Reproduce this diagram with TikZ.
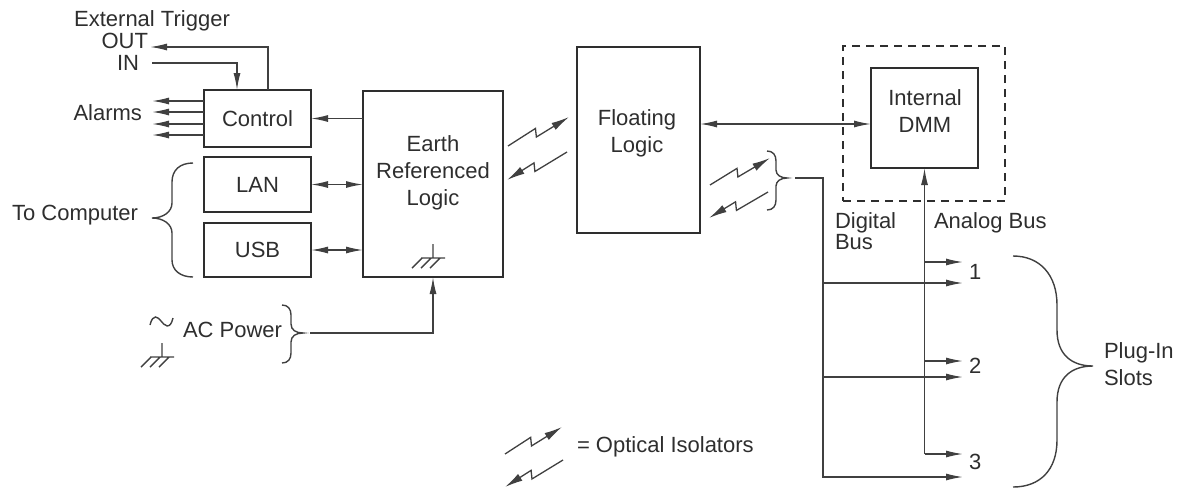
\documentclass[tikz,border=0pt]{standalone}
\usepackage{fontspec}
\setmainfont{Liberation Sans}
\usetikzlibrary{arrows.meta,calc}
\definecolor{ink}{HTML}{2e2e2e}
\definecolor{wire}{HTML}{404040}
\tikzset{
  txt/.style={font=\fontsize{22}{27}\selectfont, text=ink, inner sep=0pt, outer sep=0pt},
  box/.style={draw=ink, line width=1.8pt, inner sep=0pt, txt, align=center},
  zone/.style={draw=ink, line width=1.6pt, dash pattern=on 8pt off 6pt, inner sep=0pt},
  wireline/.style={draw=wire, line width=1.4pt},
  arr/.style={wireline, -{Latex[length=17pt,width=7pt]}},
  darr/.style={wireline, {Latex[length=17pt,width=7pt]}-{Latex[length=17pt,width=7pt]}},
  iso/.style={draw=wire, line width=1.3pt, -{Latex[length=18pt,width=8pt]}},
  bracestyle/.style={draw=wire, line width=1.4pt},
  gnd/.pic={
    \draw[wireline] (0,-14) -- (0,0) (-12,0) -- (12,0)
      (-11,0) -- (-21,10) (-2,0) -- (-12,10) (7,0) -- (-3,10);
  }
}
\newcommand\isoup[2]{\draw[iso] (#1) -- ($(#1)!0.45!(#2)+(0,-4.5)$) -- ($(#1)!0.465!(#2)+(0,4.5)$) -- (#2);}
\newcommand\isodown[2]{\draw[iso] (#1) -- ($(#1)!0.535!(#2)+(0,4.5)$) -- ($(#1)!0.55!(#2)+(0,-4.5)$) -- (#2);}
\begin{document}
\begin{tikzpicture}[x=1pt,y=-1pt]
\useasboundingbox (0,0) rectangle (1182,488);

% ---- boxes
\node[box, minimum width=107pt, minimum height=57pt] (ctrl) at (257.5,118.5) {Control};
\node[box, minimum width=107pt, minimum height=55pt] (lan) at (257.5,184.5) {LAN};
\node[box, minimum width=107pt, minimum height=54pt] (usb) at (257.5,250) {USB};
\node[box, minimum width=140pt, minimum height=186pt] (erl) at (433,184) {};
\node[txt, align=center] (erltext) at (433,173) {Earth\\Referenced\\Logic};
\node[box, minimum width=123pt, minimum height=186pt] (fl) at (638.5,140) {};
\node[txt, align=center] (fltext) at (637,133) {Floating\\Logic};
\node[zone, minimum width=162pt, minimum height=155pt] (zone) at (924,123.5) {};
\node[box, minimum width=107pt, minimum height=100pt] (dmm) at (924.5,118) {};
\node[txt, align=center] (dmmtext) at (925,111) {Internal\\DMM};

% ---- texts
\node[txt] (ext) at (152,20.5) {External Trigger};
\node[txt, anchor=east] (out) at (148,41) {OUT};
\node[txt, anchor=east] (in) at (139,63) {IN};
\node[txt, anchor=east] (alarms) at (142,113) {Alarms};
\node[txt, anchor=east] (tocomp) at (138,215) {To Computer};
\node[txt, anchor=west] (acpower) at (183,330) {AC Power};
\node[txt, anchor=west, align=left, font=\fontsize{22}{19}\selectfont] (digital) at (835,231) {Digital\\Bus};
\node[txt, anchor=west] (analog) at (934,223) {Analog Bus};
\node[txt, anchor=west] (n1) at (969,272) {1};
\node[txt, anchor=west] (n2) at (969,366) {2};
\node[txt, anchor=west] (n3) at (969,462) {3};
\node[txt, anchor=west, align=left] (plugin) at (1104,364) {Plug-In\\Slots};
\node[txt, anchor=west] (legend) at (577,447) {= Optical Isolators};

% ---- external trigger
\coordinate (outtip) at (150,47);
\coordinate (instart) at (152,63);
\draw[arr] ($(ctrl.north)+(10.5,0)$) |- (outtip);
\draw[arr] (instart) -| ($(ctrl.north)+(-20.5,0)$);

% ---- alarms
\coordinate (a1) at (152,101);
\coordinate (a2) at (152,112);
\coordinate (a3) at (152,124);
\coordinate (a4) at (152,135);
\foreach \a in {a1,a2,a3,a4} \draw[arr] (\a -| ctrl.west) -- (\a);

% ---- erl links
\draw[arr] (ctrl.east -| erl.west) -- (ctrl.east);
\draw[darr] (lan.east) -- (lan.east -| erl.west);
\draw[darr] (usb.east) -- (usb.east -| erl.west);

% ---- to computer brace
\draw[bracestyle] (193,163) .. controls (180,163) and (172,170) .. (172,182) -- (172,203)
  .. controls (172,212) and (163,218) .. (152,218)
  .. controls (163,218) and (172,224) .. (172,233) -- (172,260)
  .. controls (172,270) and (180,277) .. (193,277);

% ---- AC power
\draw[wireline] (150,325) .. controls (153,313) and (158,317) .. (161,321)
  .. controls (164,325) and (170,331) .. (173,318);
\pic at (162,357) {gnd};
\draw[bracestyle] (282,305) .. controls (288,305) and (291,309) .. (291,315) -- (291,324)
  .. controls (291,330) and (296,333) .. (303,333)
  .. controls (296,333) and (291,336) .. (291,342) -- (291,353)
  .. controls (291,359) and (288,363) .. (282,363);
\coordinate (actip) at (310,333);
\draw[arr] (actip) -| (erl.south);
\pic at (433,258) {gnd};

% ---- optical isolators ERL <-> FL
\coordinate (i1a) at (508,146);
\coordinate (i1b) at (569,117);
\coordinate (i2a) at (567,152);
\coordinate (i2b) at (507,180);
\isoup{i1a}{i1b}
\isodown{i2a}{i2b}

% ---- FL <-> DMM
\coordinate (busy) at (0,124);
\draw[darr] (fl.east |- busy) -- (dmm.west |- busy);

% ---- optical isolators FL -> digital bus
\coordinate (i3a) at (710,185);
\coordinate (i3b) at (770,158);
\coordinate (i4a) at (768,192);
\coordinate (i4b) at (709,218);
\isoup{i3a}{i3b}
\isodown{i4a}{i4b}
\draw[bracestyle] (767,151) .. controls (773,151) and (776,155) .. (776,161) -- (776,170)
  .. controls (776,175) and (781,178) .. (787,178)
  .. controls (781,178) and (776,181) .. (776,186) -- (776,200)
  .. controls (776,206) and (773,210) .. (767,210);

% ---- buses
\coordinate (dstart) at (795,178);
\coordinate (dbus) at (823,178);
\coordinate (s1a) at (963,262);
\coordinate (s2a) at (963,361);
\coordinate (s3a) at (963,454);
\coordinate (s1d) at (963,283);
\coordinate (s2d) at (963,377);
\coordinate (s3d) at (963,477);
\draw[arr] (dstart) -- (dbus) -- (dbus |- s3d) -- (s3d);
\draw[arr] (dbus |- s1d) -- (s1d);
\draw[arr] (dbus |- s2d) -- (s2d);
\draw[arr] (s3a -| dmm.south) -- (dmm.south);
\draw[arr] (s3a -| dmm.south) -- (s3a);
\draw[arr] (s1a -| dmm.south) -- (s1a);
\draw[arr] (s2a -| dmm.south) -- (s2a);

% ---- plug-in brace
\draw[bracestyle] (1013,256) .. controls (1040,256) and (1057,275) .. (1057,305) -- (1057,330)
  .. controls (1057,355) and (1072,366) .. (1093,366)
  .. controls (1072,366) and (1057,377) .. (1057,402) -- (1057,440)
  .. controls (1057,470) and (1040,487) .. (1013,487);

% ---- legend
\coordinate (l1a) at (505,454);
\coordinate (l1b) at (562,427);
\coordinate (l2a) at (563,460);
\coordinate (l2b) at (505,487);
\isoup{l1a}{l1b}
\isodown{l2a}{l2b}
\end{tikzpicture}
\end{document}
